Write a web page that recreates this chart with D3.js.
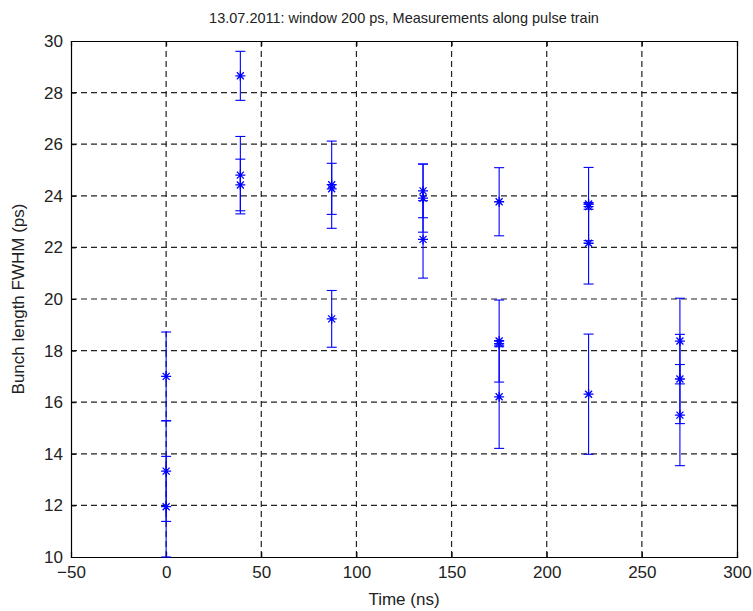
<!DOCTYPE html>
<html>
<head>
<meta charset="utf-8">
<script src="https://cdn.jsdelivr.net/npm/d3@7"></script>
<style>
  body { margin: 0; background: #fff; }
  svg { display: block; }
</style>
</head>
<body>
<svg id="chart"></svg>
<script>
// Measurements: time along the pulse train, bunch length and its error bar
const timesNs = [0, 0, 0, 39, 39, 39, 87, 87, 87, 135, 135, 135, 175, 175, 175, 175, 222, 222, 222, 222, 270, 270, 270];
const bunchLength = [17.0, 13.33, 11.95, 28.65, 24.8, 24.42, 24.43, 24.27, 19.23, 24.19, 23.91, 22.31, 23.77, 18.37, 18.27, 16.21, 23.68, 23.58, 22.16, 16.31, 18.37, 16.9, 15.5];
const bunchErr = [1.72, 1.95, 1.95, 0.95, 1.5, 1.0, 1.69, 0.99, 1.1, 1.04, 1.32, 1.5, 1.32, 1.59, 0.12, 2.0, 1.42, 0.1, 1.58, 2.33, 1.66, 1.73, 1.96];

const xTicks = [-50, 0, 50, 100, 150, 200, 250, 300];
const yTicks = [10, 12, 14, 16, 18, 20, 22, 24, 26, 28, 30];

const TITLE = '13.07.2011: window 200 ps, Measurements along pulse train';
const X_LABEL = 'Time (ns)';
const Y_LABEL = 'Bunch length FWHM (ps)';

const width = 753;
const height = 611;
const margin = { top: 41, right: 16, bottom: 54, left: 71 };
const innerWidth = width - margin.left - margin.right;
const innerHeight = height - margin.top - margin.bottom;
const BLUE = '#0000ff';
const FONT = 'Liberation Sans, Arial, sans-serif';

const svg = d3.select('#chart')
    .attr('width', width)
    .attr('height', height);

const g = svg.append('g')
    .attr('transform', `translate(${ margin.left },${ margin.top })`);

const x = d3.scaleLinear().domain([-50, 300]).range([0, innerWidth]);
const y = d3.scaleLinear().domain([10, 30]).range([innerHeight, 0]);

// Dashed grid
g.append('g')
    .selectAll('line')
    .data(xTicks.slice(1, -1))
    .join('line')
    .attr('x1', d => x(d)).attr('x2', d => x(d))
    .attr('y1', 0).attr('y2', innerHeight)
    .attr('stroke', '#222')
    .attr('stroke-width', 1.2)
    .attr('stroke-dasharray', '6,4');

g.append('g')
    .selectAll('line')
    .data(yTicks.slice(1, -1))
    .join('line')
    .attr('x1', 0).attr('x2', innerWidth)
    .attr('y1', d => y(d)).attr('y2', d => y(d))
    .attr('stroke', '#222')
    .attr('stroke-width', 1.2)
    .attr('stroke-dasharray', '6,4');

// Axes with inward ticks, like MATLAB
const xAxis = g.append('g')
    .attr('transform', `translate(0,${ innerHeight })`)
    .call(d3.axisBottom(x).tickValues(xTicks).tickSize(-5).tickPadding(7));
const yAxis = g.append('g')
    .call(d3.axisLeft(y).tickValues(yTicks).tickSize(-5).tickPadding(8));
const topAxis = g.append('g')
    .call(d3.axisTop(x).tickValues(xTicks).tickSize(-5));
const rightAxis = g.append('g')
    .attr('transform', `translate(${ innerWidth },0)`)
    .call(d3.axisRight(y).tickValues(yTicks).tickSize(-5));
topAxis.selectAll('text').remove();
rightAxis.selectAll('text').remove();

g.selectAll('.domain').attr('stroke', '#000').attr('stroke-width', 1.2);
g.selectAll('.tick line').attr('stroke', '#000');
[xAxis, yAxis].forEach(a => a.selectAll('text')
    .attr('font-family', FONT)
    .attr('font-size', 17)
    .attr('fill', '#222'));
xAxis.selectAll('text').attr('dy', '0.8em');

// Error bars
const CAP = 5;
const points = timesNs.map((t, i) => ({ t, v: bunchLength[i], e: bunchErr[i] }));

const bars = g.append('g')
    .selectAll('g')
    .data(points)
    .join('g')
    .attr('stroke', BLUE)
    .attr('stroke-width', 1.1)
    .attr('fill', 'none');

bars.append('line')
    .attr('x1', d => x(d.t)).attr('x2', d => x(d.t))
    .attr('y1', d => y(d.v + d.e)).attr('y2', d => y(d.v - d.e));
bars.append('line')
    .attr('x1', d => x(d.t) - CAP).attr('x2', d => x(d.t) + CAP)
    .attr('y1', d => y(d.v + d.e)).attr('y2', d => y(d.v + d.e));
bars.append('line')
    .attr('x1', d => x(d.t) - CAP).attr('x2', d => x(d.t) + CAP)
    .attr('y1', d => y(d.v - d.e)).attr('y2', d => y(d.v - d.e));

// Asterisk markers
const s = 5;
const d2 = s * 0.7;
bars.append('path')
    .attr('transform', d => `translate(${ x(d.t) },${ y(d.v) })`)
    .attr('d', `M${ -s },0H${ s }M0,${ -s }V${ s }M${ -d2 },${ -d2 }L${ d2 },${ d2 }M${ -d2 },${ d2 }L${ d2 },${ -d2 }`)
    .attr('stroke-width', 1.3);

// Titles
svg.append('text')
    .attr('x', margin.left + innerWidth / 2)
    .attr('y', 23)
    .attr('text-anchor', 'middle')
    .attr('font-family', FONT)
    .attr('font-size', 14.5)
    .attr('fill', '#222')
    .text(TITLE);

svg.append('text')
    .attr('x', margin.left + innerWidth / 2)
    .attr('y', 605)
    .attr('text-anchor', 'middle')
    .attr('font-family', FONT)
    .attr('font-size', 17)
    .attr('fill', '#222')
    .text(X_LABEL);

svg.append('text')
    .attr('transform', `translate(24,${ margin.top + innerHeight / 2 }) rotate(-90)`)
    .attr('text-anchor', 'middle')
    .attr('font-family', FONT)
    .attr('font-size', 17)
    .attr('fill', '#222')
    .text(Y_LABEL);
</script>
</body>
</html>
